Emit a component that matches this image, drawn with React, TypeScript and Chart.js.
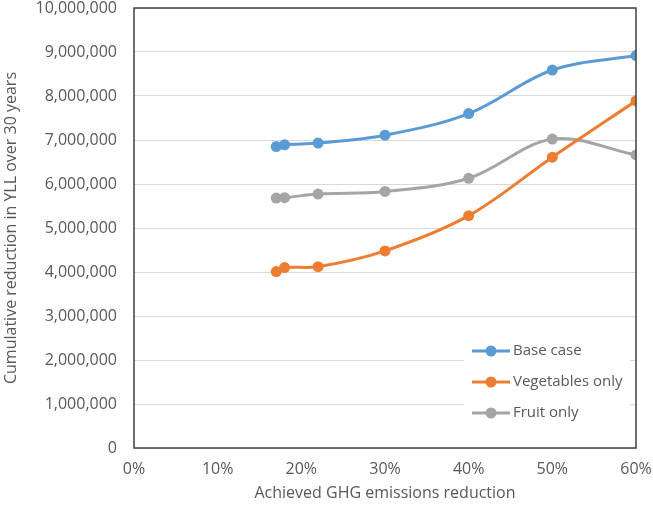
import React, { useEffect, useRef } from "react";
import { Chart, registerables } from "chart.js";

Chart.register(...registerables);

const xValues = [17, 18, 22, 30, 40, 50, 60];
const baseCase = [6850000, 6890000, 6930000, 7110000, 7600000, 8590000, 8920000];
const vegetablesOnly = [4010000, 4100000, 4120000, 4480000, 5280000, 6610000, 7890000];
const fruitOnly = [5680000, 5690000, 5770000, 5830000, 6130000, 7020000, 6660000];
const seriesNames = ["Base case", "Vegetables only", "Fruit only"];
const seriesColors = ["#5B9BD5", "#ED7D31", "#A5A5A5"];
const xTitle = "Achieved GHG emissions reduction";
const yTitle = "Cumulative reduction in YLL over 30 years";

const FONT = "'Open Sans', 'Noto Sans', sans-serif";
const TEXT = "#595959";

const boxPlugin = {
  id: "boxAndLegend",
  afterDatasetsDraw(chart: any) {
    const { ctx, chartArea } = chart;
    ctx.save();
    const lx = 464, ly = 335, lw = 166, lh = 95;
    ctx.fillStyle = "#ffffff";
    ctx.fillRect(lx, ly, lw, lh);
    chart.data.datasets.forEach((ds: any, i: number) => {
      const y = 351 + i * 31;
      ctx.strokeStyle = ds.borderColor;
      ctx.lineWidth = 3;
      ctx.beginPath();
      ctx.moveTo(472, y);
      ctx.lineTo(510, y);
      ctx.stroke();
      ctx.fillStyle = ds.borderColor;
      ctx.beginPath();
      ctx.arc(491, y, 5.5, 0, Math.PI * 2);
      ctx.fill();
      ctx.fillStyle = TEXT;
      ctx.font = `15px ${FONT}`;
      ctx.textAlign = "left";
      ctx.textBaseline = "middle";
      ctx.fillText(ds.label, 513, y);
    });
    ctx.strokeStyle = "#404040";
    ctx.lineWidth = 1.5;
    ctx.strokeRect(chartArea.left, chartArea.top, chartArea.right - chartArea.left, chartArea.bottom - chartArea.top);
    ctx.restore();
  },
};

export default function App() {
  const ref = useRef<HTMLCanvasElement>(null);
  useEffect(() => {
    document.body.style.margin = "0";
    const mk = (vals: number[]) => xValues.map((x, i) => ({ x, y: vals[i] }));
    const all = [baseCase, vegetablesOnly, fruitOnly];
    const chart = new Chart(ref.current!, {
      type: "line",
      data: {
        datasets: all.map((vals, i) => ({
          label: seriesNames[i],
          data: mk(vals),
          borderColor: seriesColors[i],
          backgroundColor: seriesColors[i],
          borderWidth: 3,
          pointRadius: 5.5,
          pointBorderWidth: 0,
          pointHoverRadius: 5.5,
          tension: 0.35,
          fill: false,
        })),
      },
      options: {
        responsive: false,
        animation: false,
        layout: { padding: { top: 8, right: 17, left: 0, bottom: 0 } },
        plugins: { legend: { display: false }, tooltip: { enabled: false } },
        scales: {
          x: {
            type: "linear",
            min: 0,
            max: 60,
            ticks: {
              stepSize: 10,
              callback: (v: any) => v + "%",
              color: TEXT,
              font: { family: FONT, size: 16 },
              padding: 12,
              maxRotation: 0,
            },
            grid: { display: false, drawTicks: false },
            border: { display: false },
            title: {
              display: true,
              text: xTitle,
              color: TEXT,
              font: { family: FONT, size: 16 },
              padding: { top: 0, bottom: 10 },
            },
            afterFit: (s: any) => { s.height = 65; s.paddingLeft = 0; s.paddingRight = 0; },
          },
          y: {
            min: 0,
            max: 10000000,
            ticks: {
              stepSize: 1000000,
              callback: (v: any) => Number(v).toLocaleString("en-US"),
              color: TEXT,
              font: { family: FONT, size: 16 },
              padding: 17,
            },
            grid: { color: "#D9D9D9", lineWidth: 1, drawTicks: false },
            border: { display: false },
            title: {
              display: true,
              text: yTitle,
              color: TEXT,
              font: { family: FONT, size: 16 },
              padding: { top: 2, bottom: 0 },
            },
            afterFit: (s: any) => { s.width = 134; s.paddingTop = 0; s.paddingBottom = 0; },
          },
        },
      },
      plugins: [boxPlugin],
    } as any);
    return () => chart.destroy();
  }, []);
  return <canvas ref={ref} width={653} height={513} style={{ display: "block" }} />;
}
